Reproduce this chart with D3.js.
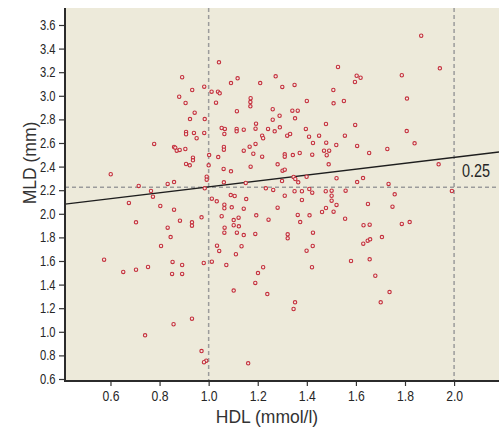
<!DOCTYPE html>
<html>
<head>
<meta charset="utf-8">
<script src="https://cdn.jsdelivr.net/npm/d3@7"></script>
<style>
  html, body { margin: 0; padding: 0; background: #ffffff; }
  svg { display: block; }
  .tick text { font-family: "Liberation Sans", Arial, sans-serif; fill: #262626; }
</style>
</head>
<body>
<svg id="chart" width="499" height="431"></svg>
<script>
// HDL (mmol/l) of each patient
const hdl = [
  0.892, 0.982, 1.012, 0.933, 0.880, 0.906, 0.943, 0.924, 0.984, 0.908,
  0.908, 0.940, 0.982, 0.951, 1.042, 1.527, 1.603, 1.619, 1.596, 1.118,
  1.091, 1.210, 1.273, 1.300, 1.350, 1.508, 1.038, 1.045, 1.030, 1.171,
  1.170, 1.170, 1.400, 1.551, 1.509, 1.115, 1.261, 1.341, 1.363, 1.289,
  1.261, 1.352, 1.193, 1.478, 1.597, 1.053, 1.066, 1.114, 1.114, 1.143,
  1.191, 1.242, 1.290, 1.269, 1.396, 1.064, 1.218, 1.222, 1.320, 1.332,
  1.409, 1.450, 1.555, 1.866, 1.942, 1.787, 1.808, 1.807, 0.778, 0.859,
  0.864, 0.870, 0.882, 0.905, 0.936, 0.936, 1.002, 0.908, 0.923, 1.000,
  0.601, 0.992, 0.992, 0.859, 0.833, 0.715, 0.984, 0.765, 0.773, 1.013,
  0.675, 0.803, 0.859, 0.971, 0.704, 0.883, 0.932, 0.932, 0.833, 0.845,
  0.806, 0.574, 0.853, 0.892, 0.980, 1.013, 0.652, 0.704, 0.753, 0.851,
  0.892, 0.932, 0.857, 0.741, 0.971, 0.990, 0.981, 1.425, 1.479, 1.520,
  1.605, 1.191, 1.167, 1.062, 1.062, 1.143, 1.182, 1.218, 1.310, 1.310,
  1.343, 1.371, 1.422, 1.470, 1.491, 1.481, 1.039, 1.489, 1.061, 1.091,
  1.171, 1.281, 1.301, 1.310, 1.346, 1.353, 1.399, 1.521, 1.605, 1.062,
  1.151, 1.299, 1.365, 1.233, 1.263, 1.350, 1.380, 1.410, 1.422, 1.477,
  1.501, 1.501, 1.501, 1.558, 1.090, 1.106, 1.033, 1.153, 1.310, 1.380,
  1.064, 1.064, 1.094, 1.143, 1.281, 1.521, 1.478, 1.462, 1.509, 1.053,
  1.122, 1.194, 1.244, 1.363, 1.411, 1.556, 1.102, 1.373, 1.102, 1.123,
  1.065, 1.064, 1.115, 1.143, 1.190, 1.322, 1.322, 1.425, 1.034, 1.134,
  1.424, 1.043, 1.111, 1.399, 1.580, 1.072, 1.222, 1.201, 1.421, 1.190,
  1.102, 1.239, 1.352, 1.346, 1.161, 1.654, 1.728, 1.839, 1.937, 1.629,
  1.733, 1.991, 1.758, 1.649, 1.749, 1.631, 1.656, 1.787, 1.819, 1.706,
  1.630, 1.648, 1.658, 1.656, 1.679, 1.737, 1.701
];

// MLD (mm) of each patient, same order as hdl
const mld = [
  3.157, 3.077, 3.035, 3.049, 2.992, 2.939, 2.857, 2.803, 2.803, 2.693,
  2.674, 2.685, 2.685, 2.640, 3.284, 3.244, 3.170, 3.153, 3.117, 3.148,
  3.108, 3.108, 3.165, 3.075, 3.092, 3.049, 3.035, 3.021, 2.942, 2.979,
  2.947, 2.911, 2.956, 2.956, 2.936, 2.869, 2.886, 2.874, 2.874, 2.831,
  2.797, 2.809, 2.764, 2.761, 2.753, 2.727, 2.719, 2.719, 2.699, 2.713,
  2.721, 2.719, 2.733, 2.699, 2.719, 2.676, 2.662, 2.640, 2.662, 2.676,
  2.653, 2.662, 2.662, 3.509, 3.233, 3.174, 2.976, 2.701, 2.592, 2.566,
  2.560, 2.535, 2.541, 2.549, 2.475, 2.453, 2.498, 2.422, 2.411, 2.411,
  2.335, 2.314, 2.289, 2.269, 2.253, 2.236, 2.216, 2.193, 2.145, 2.128,
  2.092, 2.066, 2.035, 1.970, 1.928, 1.942, 1.928, 1.899, 1.882, 1.803,
  1.727, 1.611, 1.592, 1.566, 1.583, 1.594, 1.507, 1.526, 1.549, 1.490,
  1.490, 1.111, 1.064, 0.970, 0.837, 0.755, 0.742, 2.600, 2.603, 2.583,
  2.575, 2.592, 2.569, 2.566, 2.543, 2.535, 2.509, 2.484, 2.504, 2.484,
  2.498, 2.515, 2.501, 2.535, 2.535, 2.496, 2.481, 2.419, 2.380, 2.360,
  2.399, 2.419, 2.365, 2.374, 2.312, 2.295, 2.314, 2.301, 2.269, 2.267,
  2.261, 2.278, 2.267, 2.216, 2.202, 2.191, 2.191, 2.210, 2.179, 2.191,
  2.196, 2.153, 2.111, 2.196, 2.159, 2.151, 2.106, 2.125, 2.153, 2.117,
  2.077, 2.047, 2.055, 2.043, 2.052, 2.075, 2.049, 2.015, 2.018, 1.979,
  1.967, 1.987, 1.950, 1.990, 1.987, 1.958, 1.947, 1.930, 1.903, 1.894,
  1.882, 1.840, 1.840, 1.820, 1.829, 1.826, 1.792, 1.840, 1.730, 1.725,
  1.727, 1.685, 1.657, 1.687, 1.600, 1.566, 1.547, 1.498, 1.547, 1.414,
  1.349, 1.320, 1.250, 1.193, 0.733, 2.515, 2.549, 2.597, 2.419, 2.303,
  2.253, 2.193, 2.165, 2.083, 2.060, 1.903, 1.908, 1.914, 1.930, 1.803,
  1.747, 1.772, 1.784, 1.614, 1.475, 1.337, 1.250
];

// Axis ticks
const xTicks = [0.6, 0.8, 1.0, 1.2, 1.4, 1.6, 1.8, 2.0];
const yTicks = [0.6, 0.8, 1.0, 1.2, 1.4, 1.6, 1.8, 2.0, 2.2, 2.4, 2.6, 2.8, 3.0, 3.2, 3.4, 3.6];

// Reference lines: HDL cut-offs and mean MLD
const hdlRefs = [1.0, 2.0];
const mldRef = [2.225];

// Fitted regression line and its label
const fit = { intercept: 1.978, slope: 0.25 };
const fitLabel = "0.25";

const svg = d3.select("#chart");
const pLeft = 65, pRight = 499, pTop = 8, pBottom = 381;

const x = d3.scaleLinear().domain([0.4147, 2.183]).range([pLeft, pRight]);
const y = d3.scaleLinear().domain([0.583, 3.744]).range([pBottom, pTop]);

// plot background
svg.append("rect")
  .attr("x", pLeft).attr("y", pTop)
  .attr("width", pRight - pLeft).attr("height", pBottom - pTop)
  .attr("fill", "#edeada");

const plot = svg.append("g");

// dashed reference lines
plot.selectAll("line.vref").data(hdlRefs).join("line")
  .attr("class", "vref")
  .attr("x1", d => x(d)).attr("x2", d => x(d))
  .attr("y1", pTop).attr("y2", pBottom)
  .attr("stroke", "#9b9b9b").attr("stroke-width", 1.5)
  .attr("stroke-dasharray", "4,3");

plot.selectAll("line.href").data(mldRef).join("line")
  .attr("class", "href")
  .attr("x1", pLeft).attr("x2", pRight)
  .attr("y1", d => y(d)).attr("y2", d => y(d))
  .attr("stroke", "#9b9b9b").attr("stroke-width", 1.5)
  .attr("stroke-dasharray", "4,3");

// regression line
const [x0, x1] = x.domain();
plot.append("line")
  .attr("x1", x(x0)).attr("y1", y(fit.intercept + fit.slope * x0))
  .attr("x2", x(x1)).attr("y2", y(fit.intercept + fit.slope * x1))
  .attr("stroke", "#1e1e1e").attr("stroke-width", 1.4);

// patients
const pts = hdl.map((h, i) => ({ h, m: mld[i] }));
plot.selectAll("circle").data(pts).join("circle")
  .attr("cx", d => x(d.h)).attr("cy", d => y(d.m))
  .attr("r", 1.7)
  .attr("fill", "#f3e9e3")
  .attr("stroke", "#c4303c")
  .attr("stroke-width", 1.1);

// regression label, horizontally squeezed like a condensed face
svg.append("text")
  .attr("transform", "translate(462,177) scale(0.78,1)")
  .attr("font-family", "'Liberation Sans', Arial, sans-serif")
  .attr("font-size", 18.5)
  .attr("fill", "#262626")
  .text(fitLabel);

// axes
const xAxis = svg.append("g")
  .attr("transform", `translate(0,${pBottom})`)
  .call(d3.axisBottom(x).tickValues(xTicks).tickSize(5).tickPadding(5).tickFormat(d3.format(".1f")));
xAxis.select(".domain").remove();
xAxis.selectAll(".tick line").attr("stroke", "#333").attr("stroke-width", 1.2);
xAxis.selectAll(".tick text")
  .attr("font-size", 14.5)
  .attr("transform", "scale(0.84,1)");

const ySqueeze = 0.8;
const yAxis = svg.append("g")
  .attr("transform", `translate(${pLeft},0)`)
  .call(d3.axisLeft(y).tickValues(yTicks).tickSize(6).tickPadding(3).tickFormat(d3.format(".1f")));
yAxis.select(".domain").remove();
yAxis.selectAll(".tick line").attr("stroke", "#333").attr("stroke-width", 1.2);
yAxis.selectAll(".tick text")
  .attr("font-size", 14)
  .attr("x", -9.5 / ySqueeze)
  .attr("transform", `scale(${ySqueeze},1)`);

svg.append("line")
  .attr("x1", pLeft).attr("x2", pRight).attr("y1", pBottom).attr("y2", pBottom)
  .attr("stroke", "#2b2b2b").attr("stroke-width", 2);
svg.append("line")
  .attr("x1", pLeft).attr("x2", pLeft).attr("y1", pTop).attr("y2", pBottom + 1)
  .attr("stroke", "#2b2b2b").attr("stroke-width", 2);

// axis titles
svg.append("text")
  .attr("x", 267).attr("y", 423)
  .attr("text-anchor", "middle")
  .attr("font-family", "'Liberation Sans', Arial, sans-serif")
  .attr("font-size", 17.5)
  .attr("fill", "#333")
  .text("HDL (mmol/l)");

svg.append("text")
  .attr("transform", "translate(36,163) rotate(-90)")
  .attr("text-anchor", "middle")
  .attr("font-family", "'Liberation Sans', Arial, sans-serif")
  .attr("font-size", 17.5)
  .attr("fill", "#333")
  .text("MLD (mm)");
</script>
</body>
</html>
